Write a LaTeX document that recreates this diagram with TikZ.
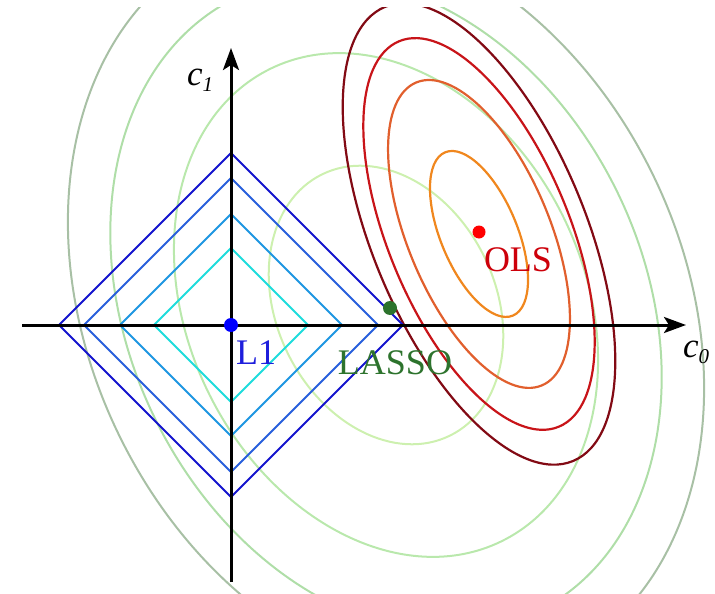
\documentclass[tikz,border=0pt]{standalone}
\usepackage{fontspec}
\setmainfont{Liberation Serif}
\usetikzlibrary{arrows.meta}
\definecolor{gA}{RGB}{205,240,175}
\definecolor{gB}{RGB}{185,232,172}
\definecolor{gC}{RGB}{175,222,168}
\definecolor{gD}{RGB}{168,192,165}
\definecolor{rA}{RGB}{240,135,30}
\definecolor{rB}{RGB}{225,95,45}
\definecolor{rC}{RGB}{200,20,25}
\definecolor{rD}{RGB}{130,10,20}
\definecolor{bA}{RGB}{30,220,220}
\definecolor{bB}{RGB}{30,150,225}
\definecolor{bC}{RGB}{40,95,220}
\definecolor{bD}{RGB}{20,20,205}
\definecolor{lassogreen}{RGB}{45,115,45}
\definecolor{olsred}{RGB}{205,0,10}
\definecolor{l1blue}{RGB}{30,30,220}
\begin{document}
\begin{tikzpicture}[x=1pt,y=1pt,
  greenc/.style={line width=2pt},
  redc/.style={line width=2.2pt},
  dia/.style={line width=2pt},
  axisline/.style={line width=3pt,-{Stealth[length=22pt,width=16pt,inset=5pt]}},
  lbl/.style={inner sep=0pt,font=\fontsize{36}{40}\selectfont},
  axlbl/.style={inner sep=0pt,anchor=base west,font=\fontsize{35}{40}\selectfont\itshape}
]
\useasboundingbox (0,0) rectangle (715,-594);
\coordinate (O) at (231,-325);
\coordinate (G) at (386,-305);
\coordinate (R) at (479,-234);
\begin{scope}
  \clip (0,-8) rectangle (715,-594);
  \foreach \s/\c in {0.553/gA,1/gB,1.30/gC,1.50/gD}
    \draw[greenc,\c,rotate around={-64:(G)}] (G) ellipse [x radius=263*\s, y radius=198*\s];
  \foreach \s/\c in {1/rA,1.855/rB,2.36/rC,2.78/rD}
    \draw[redc,\c,rotate around={-67.5:(R)}] (R) ellipse [x radius=88.4*\s, y radius=38.4*\s];
\end{scope}
\foreach \h/\c in {172/bD,147/bC,111/bB,77/bA}
  \draw[dia,\c] ([xshift=-\h pt]O) -- ([yshift=\h pt]O) -- ([xshift=\h pt]O) -- ([yshift=-\h pt]O) -- cycle;
\coordinate (xs) at (22,-325);
\coordinate (xe) at (686,-325);
\coordinate (ys) at (231,-582);
\coordinate (ye) at (231,-48);
\draw[axisline] (xs) -- (xe);
\draw[axisline] (ys) -- (ye);
\fill[blue] (O) circle (7);
\fill[lassogreen] (390,-308) circle (7);
\fill[red] (479,-232) circle (6.5);
\node[lbl,text=olsred] (ols) at (518,-260) {OLS};
\node[lbl,text=lassogreen] (lasso) at (395,-363) {LASSO};
\node[lbl,text=l1blue] (l1) at (256,-353) {L1};
\node[axlbl] (c1) at (187,-85) {c\raisebox{-6pt}{\fontsize{21}{21}\selectfont 1}};
\node[axlbl] (c0) at (683,-357) {c\raisebox{-6pt}{\fontsize{21}{21}\selectfont 0}};
\end{tikzpicture}
\end{document}
